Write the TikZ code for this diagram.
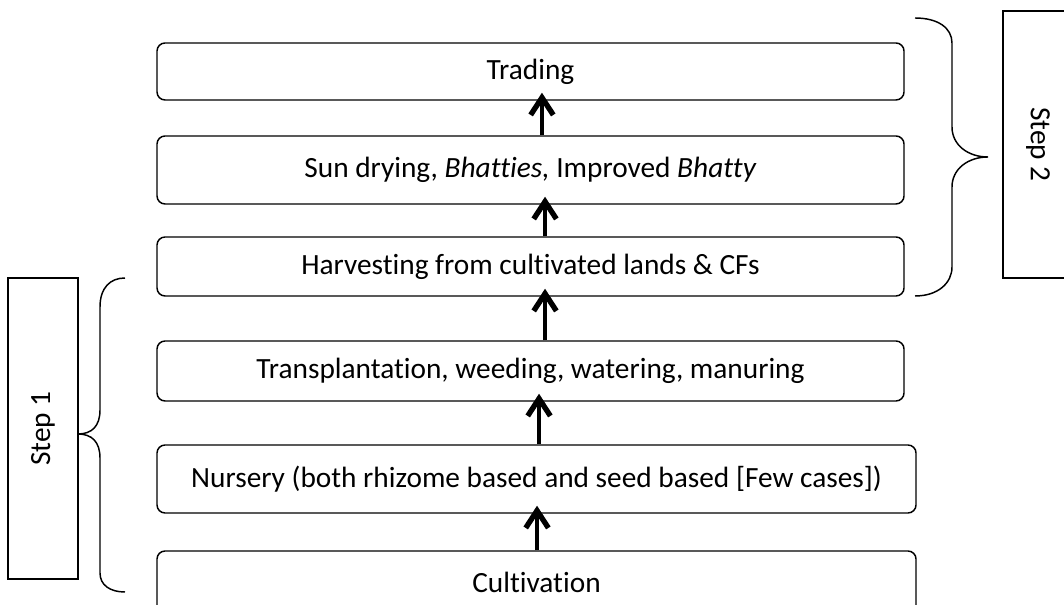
\documentclass[tikz,border=0pt]{standalone}
\usepackage{fontspec}
\setmainfont{Carlito}[Ligatures=NoCommon]
\usetikzlibrary{arrows.meta}
\begin{document}
\begin{tikzpicture}[x=0.75pt,y=-0.75pt,
  stagebox/.style={draw,rounded corners=6pt,line width=1.1pt,inner sep=0pt,
    font=\fontsize{22}{26}\selectfont},
  stepbox/.style={draw,line width=1.1pt,inner sep=0pt,
    font=\fontsize{22}{26}\selectfont},
  brace/.style={line width=1.1pt},
  flow/.style={line width=3.2pt,
    -{Straight Barb[length=13pt,width=17pt,line width=0pt 1.25]},shorten >=-6pt}]
\useasboundingbox (0,0) rectangle (1064,605);

% the six stages, bottom to top
\node[stagebox,minimum width=560.25pt,minimum height=42.75pt] (trade) at (530.5,71.5) {Trading};
\node[stagebox,minimum width=560.25pt,minimum height=51pt] (dry) at (530.5,170) {Sun drying, \textit{Bhatties,} Improved \textit{Bhatty}};
\node[stagebox,minimum width=560.25pt,minimum height=44.25pt] (harv) at (530.5,266.5) {Harvesting from cultivated lands \& CFs};
\node[stagebox,minimum width=560.25pt,minimum height=45pt] (trans) at (530.5,371) {Transplantation, weeding, watering, manuring};
\node[stagebox,minimum width=569.25pt,minimum height=51pt] (nurs) at (536.5,479) {Nursery (both rhizome based and seed based [Few cases])};
\node[stagebox,minimum width=569.25pt,minimum height=46.5pt] (cult) at (536.5,582) {Cultivation};

% upward flow between stages
\path ([xshift=0.4pt]cult.north) coordinate (a1);
\path ([xshift=1.9pt]nurs.north) coordinate (a2);
\path ([xshift=10.9pt]trans.north) coordinate (a3);
\path ([xshift=10.9pt]harv.north) coordinate (a4);
\path ([xshift=8.6pt]dry.north) coordinate (a5);
\draw[flow] (a1) -- (a1 |- nurs.south);
\draw[flow] (a2) -- (a2 |- trans.south);
\draw[flow] (a3) -- (a3 |- harv.south);
\draw[flow] (a4) -- (a4 |- dry.south);
\draw[flow] (a5) -- (a5 |- trade.south);

% step labels
\node[stepbox,rotate=90,minimum width=225.75pt,minimum height=52.5pt] (s1) at (43,428.5) {Step 1};
\node[stepbox,rotate=-90,minimum width=200.25pt,minimum height=52.5pt] (s2) at (1038,144.5) {Step 2};

% braces grouping the stages
\draw[brace] (125,278) .. controls (110,278) and (100,288) .. (100,307) -- (100,410)
  .. controls (100,426) and (92,434) .. (78,434)
  .. controls (92,434) and (100,442) .. (100,458) -- (100,573)
  .. controls (100,585) and (110,592) .. (125,592);
\draw[brace] (915,18) .. controls (938,18) and (952,28) .. (952,43) -- (952,127)
  .. controls (952,145) and (968,157) .. (988,157)
  .. controls (968,157) and (952,169) .. (952,187) -- (952,267)
  .. controls (952,283) and (938,296) .. (915,296);
\end{tikzpicture}
\end{document}
